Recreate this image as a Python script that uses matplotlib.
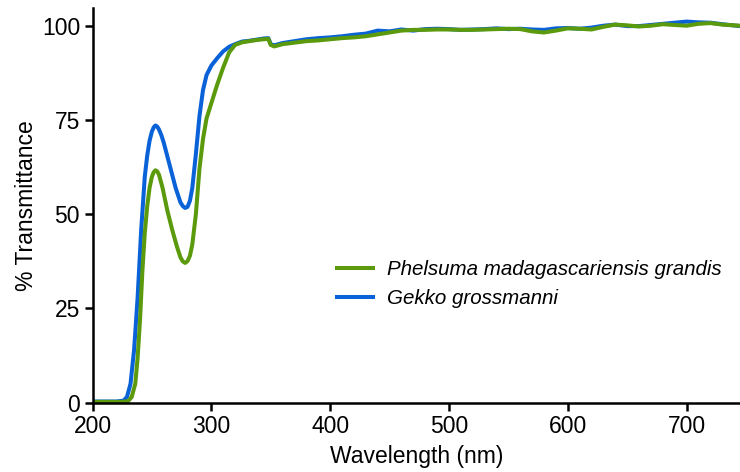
import matplotlib
matplotlib.use("Agg")
import matplotlib.pyplot as plt

# Transmittance spectra
wl_gekko = [200, 220, 226, 229, 232, 235, 238, 241, 244, 246, 248, 250, 251.5, 253, 254.5, 256, 258,
            260, 265, 270, 274, 276, 278, 280, 282, 284, 287, 290, 293, 296, 300, 305, 310, 315,
            320, 326, 332, 338, 344, 348, 350, 353, 360, 370, 380, 390, 400, 410, 420, 430, 440,
            450, 460, 470, 480, 490, 500, 510, 520, 530, 540, 550, 560, 570, 580, 590, 600, 610,
            620, 630, 640, 650, 660, 670, 680, 690, 700, 710, 720, 730, 745]
t_gekko = [0.3, 0.3, 0.5, 1.5, 5, 14, 28, 46, 60, 65.5, 69.5, 72, 73.1, 73.6, 73.3, 72.5, 71,
           69, 63, 57, 53.2, 52.2, 51.7, 52.0, 53.6, 57, 66, 76, 83, 87, 89.5, 91.5, 93.3, 94.5,
           95.2, 95.9, 96.1, 96.4, 96.7, 96.8, 95.2, 94.9, 95.5, 96, 96.5, 96.8, 97, 97.3, 97.7, 98.0, 98.8,
           98.6, 99.1, 98.8, 99.2, 99.3, 99.2, 99.0, 99.1, 99.2, 99.4, 99.2, 99.3, 99.1, 99.0, 99.4, 99.5, 99.3,
           99.6, 100.1, 100.4, 100.0, 100.0, 100.3, 100.6, 100.9, 101.2, 101.0, 100.9, 100.5, 100.0]

wl_phelsuma = [200, 225, 230, 233, 236, 238, 240, 242, 244, 246, 248, 250, 251.5, 253, 254.5, 256, 259,
               263, 267, 271, 274, 276, 278, 280, 282, 284, 287, 290, 293, 296, 300, 305, 310, 315,
               320, 326, 332, 338, 344, 348, 350, 353, 360, 370, 380, 390, 400, 410, 420, 430, 440,
               450, 460, 470, 480, 490, 500, 510, 520, 530, 540, 550, 560, 570, 580, 590, 600, 610,
               620, 630, 640, 650, 660, 670, 680, 690, 700, 710, 720, 730, 745]
t_phelsuma = [0.2, 0.2, 0.4, 1.5, 5, 12, 22, 35, 45, 52, 57, 60, 61.2, 61.7, 61.4, 60.5, 57,
              51, 46, 41.5, 38.6, 37.5, 37.1, 37.6, 39.0, 42, 50, 62, 70, 75.5, 79.5, 84.5, 89, 93,
              95, 95.7, 96, 96.3, 96.5, 96.6, 95.0, 94.6, 95.2, 95.6, 96.0, 96.2, 96.5, 96.8, 97.0, 97.3, 97.8,
              98.3, 98.8, 99.0, 99.0, 99.1, 99.1, 99.0, 99.0, 99.1, 99.2, 99.3, 99.2, 98.6, 98.3, 98.8, 99.4, 99.3,
              99.1, 99.8, 100.4, 100.2, 99.9, 100.1, 100.5, 100.3, 100.1, 100.6, 100.8, 100.4, 100.1]

x_ticks = [200, 300, 400, 500, 600, 700]
y_ticks = [0, 25, 50, 75, 100]

plt.rcParams['font.family'] = ['Liberation Sans', 'DejaVu Sans']
plt.rcParams['font.size'] = 16.5

fig = plt.figure(figsize=(7.4, 4.72), dpi=100)
ax = fig.add_axes([0.125, 0.147, 0.875, 0.836])

green = '#5b9a0c'
blue = '#0a62d8'
lb, = ax.plot(wl_gekko, t_gekko, color=blue, lw=2.9, label='Gekko grossmanni',
              solid_joinstyle='round')
lg, = ax.plot(wl_phelsuma, t_phelsuma, color=green, lw=2.9, label='Phelsuma madagascariensis grandis',
              solid_joinstyle='round')

ax.set_xlim(200, 745)
ax.set_ylim(0, 104.8)
ax.set_xticks(x_ticks)
ax.set_yticks(y_ticks)
ax.set_xlabel('Wavelength (nm)', labelpad=5)
ax.set_ylabel('% Transmittance', labelpad=3)

for s in ['top', 'right']:
    ax.spines[s].set_visible(False)
for s in ['left', 'bottom']:
    ax.spines[s].set_linewidth(1.8)
ax.tick_params(width=1.8, length=6, pad=3)

leg = ax.legend([lg, lb], [lg.get_label(), lb.get_label()], frameon=False,
                loc='center left', bbox_to_anchor=(0.362, 0.30), borderpad=0,
                handlelength=1.75, handletextpad=0.65, labelspacing=0.5,
                prop={'size': 14.8, 'style': 'italic'})

fig.savefig('out.png', dpi=100)
